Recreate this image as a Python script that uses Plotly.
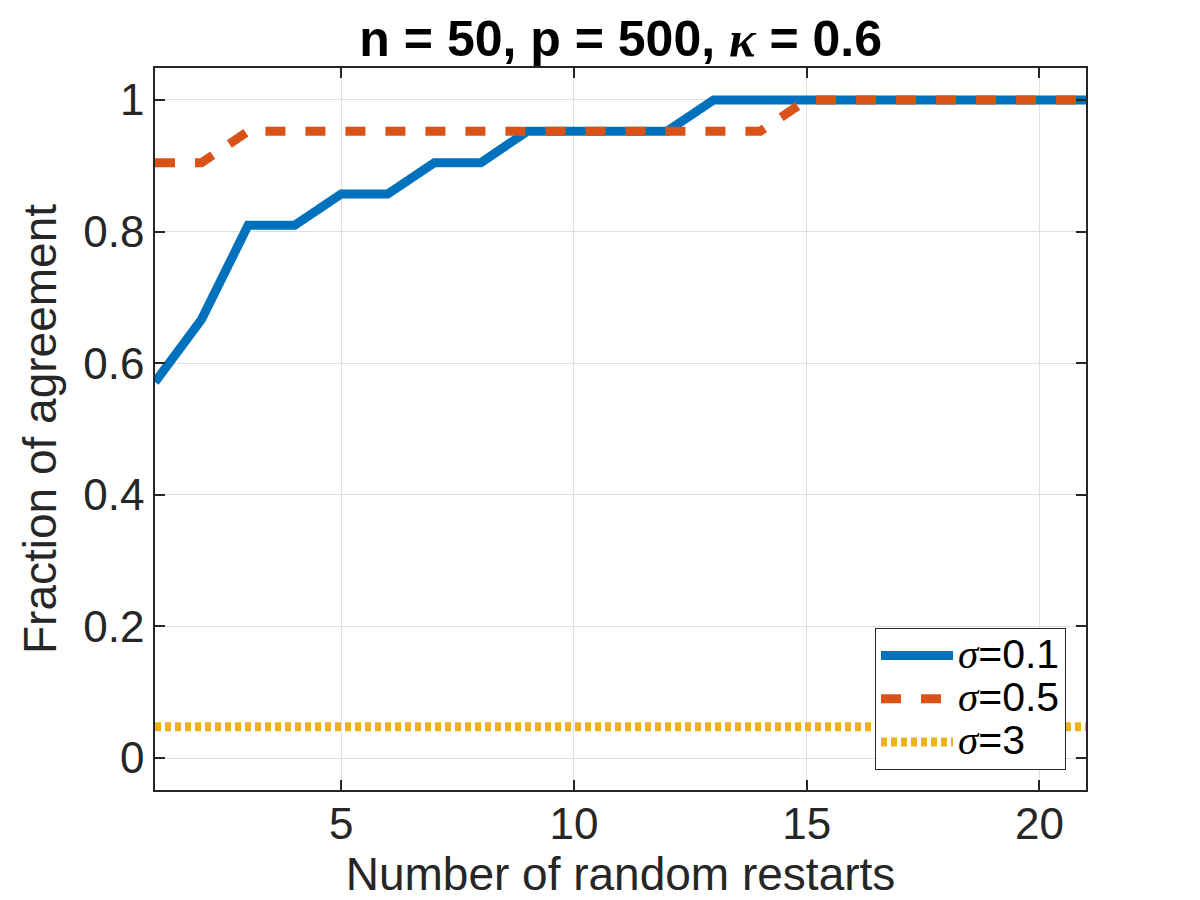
import plotly.graph_objs as go

# number of random restarts
restarts = list(range(1, 22))

# fraction of agreement for each noise level (multiples of 1/21)
agree_sigma_01 = [12/21, 14/21, 17/21, 17/21, 18/21, 18/21, 19/21, 19/21, 20/21, 20/21,
                  20/21, 20/21, 1, 1, 1, 1, 1, 1, 1, 1, 1]
agree_sigma_05 = [19/21, 19/21, 20/21, 20/21, 20/21, 20/21, 20/21, 20/21, 20/21, 20/21,
                  20/21, 20/21, 20/21, 20/21, 1, 1, 1, 1, 1, 1, 1]
agree_sigma_3 = [1/21] * 21

sigma = '<span style="font-family:Liberation Serif"><i>σ</i></span>'
series_names = [sigma + "=0.1", sigma + "=0.5", sigma + "=3"]

x_ticks = [5, 10, 15, 20]
y_ticks = [0, 0.2, 0.4, 0.6, 0.8, 1]
y_tick_labels = ["0", "0.2", "0.4", "0.6", "0.8", "1"]

font_name = "Liberation Sans, Arial, Helvetica, sans-serif"
axis_color = "#262626"
grid_color = "#DFDFDF"


def legend_label(name):
    # bigger text than the legend font, so rows stay as tight as in the reference
    return '<span style="font-size:41px">' + name + '</span>'


chart = [
    go.Scatter(x=restarts, y=agree_sigma_01, name=legend_label(series_names[0]), mode="lines",
               line=dict(color="#0072BD", width=9)),
    go.Scatter(x=restarts, y=agree_sigma_05, name=legend_label(series_names[1]), mode="lines",
               line=dict(color="#D95319", width=9, dash="20px,20px")),
    go.Scatter(x=restarts, y=agree_sigma_3, name=legend_label(series_names[2]), mode="lines",
               line=dict(color="#EDB120", width=9, dash="6px,4px")),
]

axis_common = dict(
    showline=True, linecolor=axis_color, linewidth=1.5, mirror="ticks",
    ticks="inside", ticklen=10, tickwidth=1.5, tickcolor=axis_color,
    showgrid=True, gridcolor=grid_color, gridwidth=1, zeroline=False,
    tickfont=dict(family=font_name, size=44, color=axis_color),
)

# the page adds ~8px of body margin, so the figure is made 8px smaller to fit the window
layout = go.Layout(
    width=1192, height=892,
    paper_bgcolor="white", plot_bgcolor="white",
    margin=dict(l=147, r=114, t=60, b=110),
    title=dict(text='<b>n = 50, p = 500, <span style="font-family:Liberation Serif"><i>κ</i></span> = 0.6</b>',
               x=0.514, xanchor="center", y=0.966, yanchor="middle",
               font=dict(family=font_name, size=50, color="black")),
    xaxis=dict(axis_common, range=[1, 21], tickvals=x_ticks, ticklabelstandoff=-6,
               title=dict(text="Number of random restarts", standoff=0,
                          font=dict(family=font_name, size=46, color=axis_color))),
    yaxis=dict(axis_common, range=[-0.0486, 1.0486], tickvals=y_ticks, ticktext=y_tick_labels,
               title=dict(text="Fraction of agreement", standoff=12,
                          font=dict(family=font_name, size=46, color=axis_color))),
    legend=dict(x=0.9785, xanchor="right", y=0.028, yanchor="bottom",
                bgcolor="white", bordercolor="#262626", borderwidth=1,
                font=dict(family=font_name, size=31, color="black"),
                itemwidth=72, tracegroupgap=0),
    showlegend=True,
)

fig = go.Figure(data=chart, layout=layout)
fig.write_html("out.html")
